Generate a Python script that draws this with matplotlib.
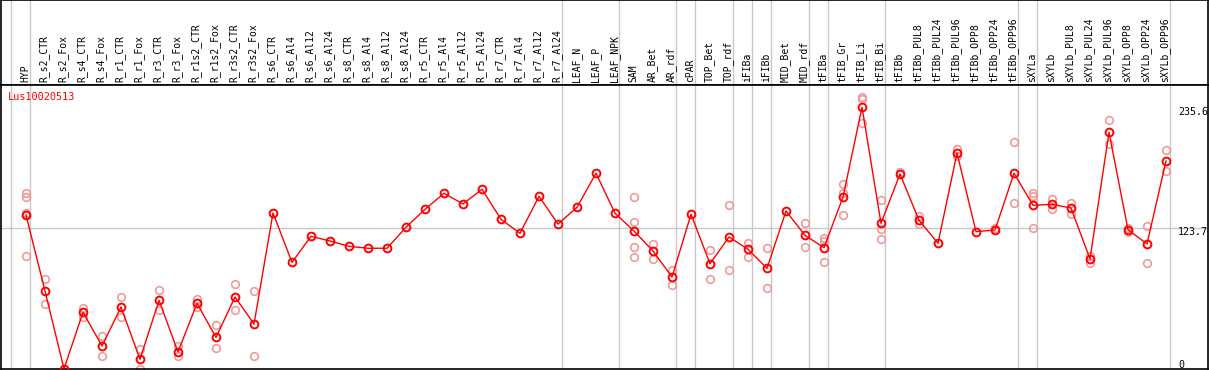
import matplotlib
matplotlib.use("Agg")
import matplotlib.pyplot as plt

# ── data ─────────────────────────────────────────────────────────────────────
gene = "Lus10020513"

samples = [
    "HYP", "R_s2_CTR", "R_s2_Fox", "R_s4_CTR", "R_s4_Fox", "R_r1_CTR", "R_r1_Fox",
    "R_r3_CTR", "R_r3_Fox", "R_r1s2_CTR", "R_r1s2_Fox", "R_r3s2_CTR", "R_r3s2_Fox",
    "R_s6_CTR", "R_s6_Al4", "R_s6_Al12", "R_s6_Al24", "R_s8_CTR", "R_s8_Al4",
    "R_s8_Al12", "R_s8_Al24", "R_r5_CTR", "R_r5_Al4", "R_r5_Al12", "R_r5_Al24",
    "R_r7_CTR", "R_r7_Al4", "R_r7_Al12", "R_r7_Al24", "LEAF_N", "LEAF_P", "LEAF_NPK",
    "SAM", "AR_Bet", "AR_rdf", "cPAR", "TOP_Bet", "TOP_rdf", "iFIBa", "iFIBb",
    "MID_Bet", "MID_rdf", "tFIBa", "tFIB_Gr", "tFIB_Li", "tFIB_Bi", "tFIBb",
    "tFIBb_PUL8", "tFIBb_PUL24", "tFIBb_PUL96", "tFIBb_OPP8", "tFIBb_OPP24",
    "tFIBb_OPP96", "sXYLa", "sXYLb", "sXYLb_PUL8", "sXYLb_PUL24", "sXYLb_PUL96",
    "sXYLb_OPP8", "sXYLb_OPP24", "sXYLb_OPP96",
]

mean_expr = [
    135.5, 64.9, -7.5, 45.1, 13.8, 50.0, 1.4, 56.2, 8.2, 53.4, 21.8, 59.3, 34.2,
    137.4, 91.5, 115.7, 111.3, 106.4, 104.6, 104.6, 124.1, 140.8, 155.7, 145.7,
    159.4, 131.5, 118.5, 152.9, 127.1, 142.7, 174.3, 137.1, 120.6, 102.0, 77.9,
    136.2, 90.2, 115.1, 103.6, 86.0, 139.2, 116.6, 105.1, 152.2, 235.6, 127.8,
    173.6, 130.6, 109.2, 193.1, 120.0, 121.6, 174.3, 144.5, 145.4, 142.0, 94.6,
    212.4, 121.8, 108.6, 185.7,
]

# individual replicates (sample, value)
rep_sample = [
    "HYP", "HYP", "HYP", "HYP", "R_s2_CTR", "R_s2_CTR", "R_s4_CTR", "R_s4_CTR",
    "R_s4_Fox", "R_s4_Fox", "R_r1_CTR", "R_r1_CTR", "R_r1_Fox", "R_r1_Fox",
    "R_r3_CTR", "R_r3_CTR", "R_r3_Fox", "R_r3_Fox", "R_r1s2_CTR", "R_r1s2_CTR",
    "R_r1s2_Fox", "R_r1s2_Fox", "R_r3s2_CTR", "R_r3s2_CTR", "R_r3s2_Fox", "R_r3s2_Fox",
    "SAM", "SAM", "SAM", "SAM", "AR_Bet", "AR_Bet", "AR_rdf", "AR_rdf",
    "TOP_Bet", "TOP_Bet", "TOP_rdf", "TOP_rdf", "iFIBa", "iFIBa", "iFIBb", "iFIBb",
    "MID_rdf", "MID_rdf", "tFIBa", "tFIBa", "tFIBa", "tFIB_Gr", "tFIB_Gr", "tFIB_Gr",
    "tFIB_Li", "tFIB_Li", "tFIB_Li", "tFIB_Bi", "tFIB_Bi", "tFIB_Bi", "tFIBb",
    "tFIBb_PUL8", "tFIBb_PUL8", "tFIBb_PUL96", "tFIBb_PUL96", "tFIBb_OPP24",
    "tFIBb_OPP96", "tFIBb_OPP96", "sXYLa", "sXYLa", "sXYLa", "sXYLb", "sXYLb",
    "sXYLb_PUL8", "sXYLb_PUL8", "sXYLb_PUL24", "sXYLb_PUL24", "sXYLb_PUL96",
    "sXYLb_PUL96", "sXYLb_OPP8", "sXYLb_OPP8", "sXYLb_OPP24", "sXYLb_OPP24",
    "sXYLb_OPP96", "sXYLb_OPP96",
]
rep_value = [
    155.7, 152.5, 137.6, 97.4, 76.0, 52.5, 49.3, 41.0,
    23.0, 4.5, 59.3, 40.4, 10.7, -7.9,
    65.8, 47.2, 13.8, 4.5, 57.7, 49.7,
    33.0, 11.6, 71.1, 46.9, 64.6, 4.5,
    152.2, 128.7, 105.5, 96.5, 108.8, 94.3, 84.1, 70.2,
    102.7, 75.7, 144.5, 84.1, 109.8, 96.7, 104.6, 67.4,
    127.8, 105.5, 113.8, 111.3, 91.8, 164.3, 156.2, 135.5,
    244.9, 243.3, 220.7, 149.2, 122.2, 112.9, 175.7,
    134.9, 127.1, 196.6, 190.3, 123.1,
    203.1, 146.4, 156.2, 153.2, 123.1, 150.4, 141.1,
    146.4, 136.4, 97.4, 90.9, 223.5,
    201.5, 123.7, 119.7, 125.6, 90.9,
    195.9, 176.4,
]

# last sample of each tissue group (vertical separators)
group_ends = ["HYP", "R_r7_Al24", "LEAF_NPK", "AR_rdf", "cPAR", "TOP_rdf", "iFIBa",
              "iFIBb", "MID_rdf", "tFIBa", "tFIB_Bi", "tFIBb_OPP96", "sXYLa",
              "sXYLb_OPP96"]

y_ticks = [0, 123.7, 235.6]

# ── figure ───────────────────────────────────────────────────────────────────
W, H = 1209, 370
fig = plt.figure(figsize=(W / 100, H / 100), dpi=100, facecolor="white")

HEAD = 85          # header height in px
ax_h = fig.add_axes([1 / W, (H - HEAD) / H, 1207 / W, HEAD / H])
ax = fig.add_axes([1 / W, 1 / H, 1207 / W, (H - HEAD - 1) / H], sharex=ax_h)

xpos = {s: i for i, s in enumerate(samples)}
x = list(range(len(samples)))
MONO = "DejaVu Sans Mono"
RED = "#ff0000"
PINK = "#f09a9a"
GRID = "#c8c8c8"

ax.set_xlim(-1.316, 62.21)
ax.set_ylim(-7.6, 256.3)
ax_h.set_ylim(0, 1)

for a in (ax, ax_h):
    a.set_xticks([])
    a.set_yticks([])
    for sp in a.spines.values():
        sp.set_color("black")
        sp.set_linewidth(1.2)
    a.axvline(-1 + 0.22, color=GRID, linewidth=1.0, zorder=0)
    for g in group_ends:
        a.axvline(xpos[g] + 0.22, color=GRID, linewidth=1.0, zorder=0)

# header sample labels
for s in samples:
    ax_h.text(xpos[s] - 0.05, 0.03, s, rotation=90, ha="center", va="bottom",
              fontsize=7, family=MONO, color="black")

# horizontal reference line + value labels (just under each level)
ax.axhline(123.7, color=GRID, linewidth=1.0, zorder=0)
for v in y_ticks:
    ax.text(60.63, v - 7.0, f"{v:g}", ha="left", va="baseline",
            fontsize=7.2, family=MONO, color="black")

ax.text(-0.95, 245, gene, ha="left", va="center", fontsize=7.4,
        family=MONO, color=RED)

# replicates
ax.plot([xpos[s] for s in rep_sample], rep_value, "o", linestyle="none",
        markersize=5.5, markerfacecolor="none", markeredgecolor=PINK,
        markeredgewidth=1.2, zorder=2)

# mean profile
ax.plot(x, mean_expr, "-o", color=RED, linewidth=1.0, markersize=5.6,
        markerfacecolor="none", markeredgecolor=RED, markeredgewidth=1.4,
        zorder=3)

plt.savefig("out.png", dpi=100, facecolor="white")
